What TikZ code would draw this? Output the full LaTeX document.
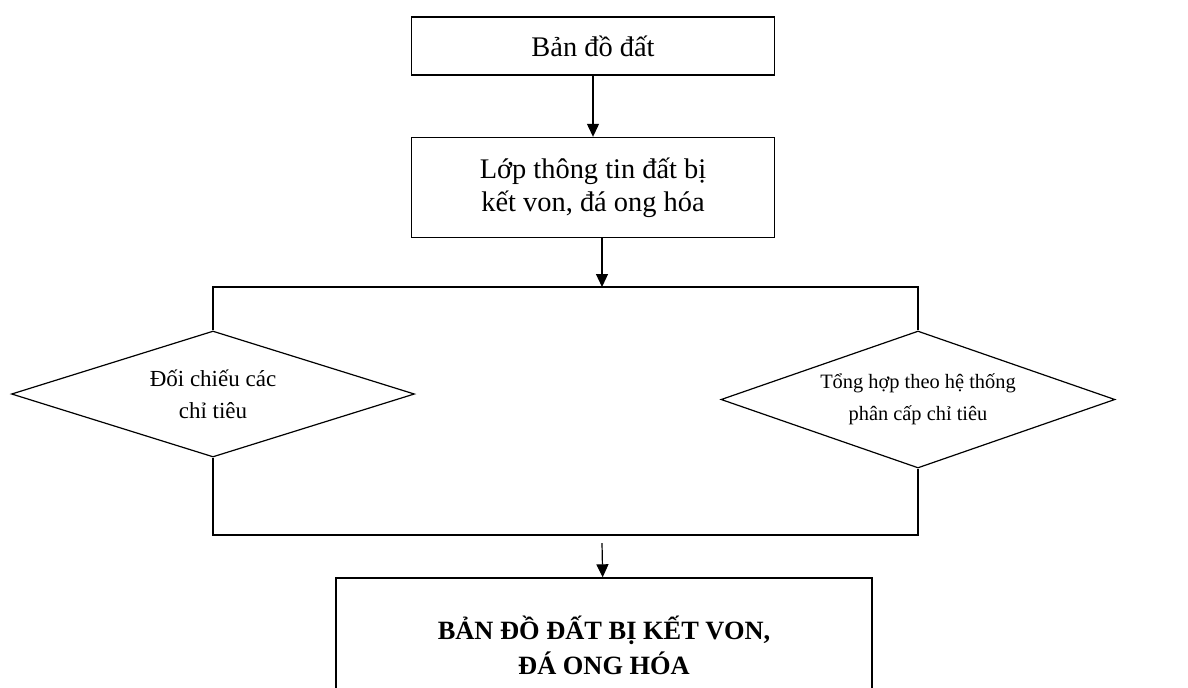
\documentclass[tikz,border=0pt]{standalone}
\usepackage{fontspec}
\setmainfont{Liberation Serif}
\usetikzlibrary{shapes.geometric,arrows.meta}
\tikzset{
  box/.style={draw,line width=0.7pt,minimum width=181.5pt,align=center,font=\fontsize{14.2}{16.5}\selectfont},
  decision/.style={draw,diamond,line width=0.6pt,aspect=3.2,inner sep=0pt,align=center,font=\fontsize{11.5}{16}\selectfont},
  flow/.style={-{Triangle[length=6.5pt,width=6pt]},line width=0.6pt},
  link/.style={line width=0.7pt}
}
\begin{document}
\begin{tikzpicture}[x=0.5pt,y=-0.5pt]
  \path[use as bounding box,clip] (0,0) rectangle (1188,687);

  \node[box,minimum height=29pt] (map) at (593,46) {Bản đồ đất};
  \node[box,minimum height=50pt] (layer) at (593,187.5) {Lớp thông tin đất bị\\kết von, đá ong hóa};

  \node[decision,minimum width=201.5pt,minimum height=63pt] (compare) at (213,394) {Đối chiếu các\\chỉ tiêu};
  \node[decision,minimum width=197pt,minimum height=68.5pt,font=\fontsize{10.2}{16}\selectfont] (sum) at (918,399.5) {Tổng hợp theo hệ thống\\phân cấp chỉ tiêu};

  \node[box,minimum width=268pt,minimum height=67pt,font=\bfseries\fontsize{13.2}{17.5}\selectfont] (result) at (604,645) {BẢN ĐỒ ĐẤT BỊ KẾT VON,\\ĐÁ ONG HÓA};

  \coordinate (split) at (602,287);
  \coordinate (join) at (602,535);

  \draw[flow] (map) -- (layer);
  \draw[flow] (layer.south -| split) -- (split);
  \draw[link] (compare.north) |- (split) -| (sum.north);
  \draw[link] (compare.south) |- (join) -| (sum.south);
  \draw[flow] ([yshift=-4pt]join) -- (result);
\end{tikzpicture}
\end{document}
